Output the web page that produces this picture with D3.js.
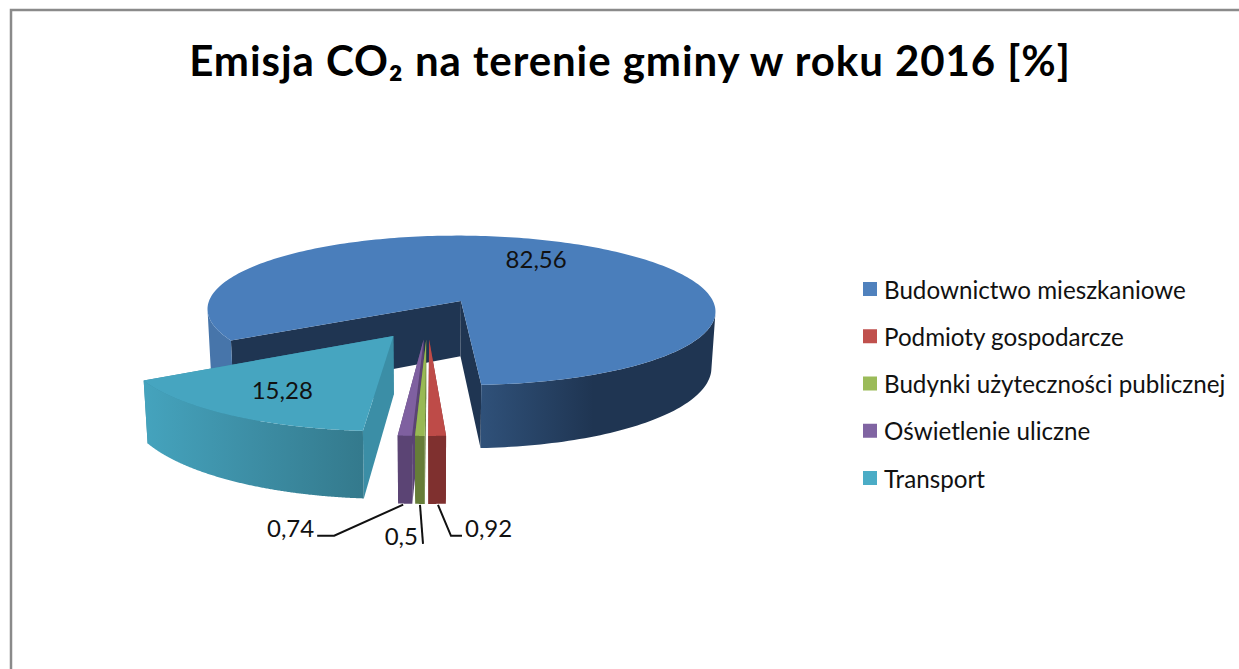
<!DOCTYPE html>
<html>
<head>
<meta charset="utf-8">
<script src="https://cdn.jsdelivr.net/npm/d3@7"></script>
<style>
  html, body { margin: 0; padding: 0; background: #fff; overflow: hidden; }
  text { font-family: Lato, "Open Sans", sans-serif; fill: #111; }
</style>
</head>
<body>
<div id="chart"></div>
<script>
const categories = ["Budownictwo mieszkaniowe", "Podmioty gospodarcze", "Budynki użyteczności publicznej", "Oświetlenie uliczne", "Transport"];
const values = [82.56, 0.92, 0.5, 0.74, 15.28];
const valueLabels = ["82,56", "0,92", "0,5", "0,74", "15,28"];
const explosions = [0.28, 0.245, 0.245, 0.245, 0.24];
const topColors = ["#4A7EBB", "#BE4B48", "#98B954", "#7F60A0", "#46A5C0"];
const legendColors = ["#4F81BD", "#C0504D", "#9BBB59", "#8064A2", "#4BACC6"];
const wallColors = ["#1F3552", "#7F302F", "#667D38", "#5B4474", "#3B8EA6"];

const width = 1239, height = 669;

// 3D look: world unit = pie radius, Y grows towards the viewer
const cx = 427.5, cy = 319.6, ra = 260, rb = 78.3;
const persp = 0.13, depth = 57, shrink = 0.014;
const firstAngle = 239.7 * Math.PI / 180;
const TAU = 2 * Math.PI;

const svg = d3.select("#chart").append("svg")
    .attr("width", width)
    .attr("height", height);

svg.append("rect")
    .attr("x", 11).attr("y", 10)
    .attr("width", width + 20).attr("height", height + 20)
    .attr("fill", "#fff")
    .attr("stroke", "#8a8a8a")
    .attr("stroke-width", 2.5);

svg.append("text")
    .attr("x", 630)
    .attr("y", 76)
    .attr("text-anchor", "middle")
    .style("font-size", "42px")
    .style("font-weight", "bold")
    .style("letter-spacing", "0.93px")
    .style("fill", "#000")
    .text("Emisja CO₂ na terenie gminy w roku 2016 [%]");

function project(X, Y, z) {
    let s = 1 / (1 - persp * Y);
    let f = 1 - shrink * z;
    return [cx + ra * X * s * f, cy + rb * Y * s + depth * s * z];
}

let slices = d3.pie().sort(null).startAngle(firstAngle).endAngle(firstAngle + TAU)(values);

slices.forEach((d, i) => {
    d.mid = (d.startAngle + d.endAngle) / 2;
    d.ox = explosions[i] * Math.sin(d.mid);
    d.oy = -explosions[i] * Math.cos(d.mid);
    // point of the slice at angle a and radius r, z=0 top, z=1 bottom
    d.at = (a, r, z) => project(d.ox + r * Math.sin(a), d.oy - r * Math.cos(a), z);
    d.angles = d3.range(0, 1.0001, 1 / 240).map(t => d.startAngle + t * (d.endAngle - d.startAngle));

    // the part of the rim that faces the viewer runs from the rightmost to the leftmost point
    let circle = d3.range(0, TAU, TAU / 720);
    d.rightA = d3.greatest(circle, a => d.at(a, 1, 0)[0]);
    d.leftA = d3.least(circle, a => d.at(a, 1, 0)[0]);
});

function wallRuns(d) {
    let runs = [], cur = null;
    d.angles.forEach(a => {
        let m = ((a % TAU) + TAU) % TAU;
        if (m >= d.rightA && m <= d.leftA) {
            if (!cur) { cur = []; runs.push(cur); }
            cur.push(a);
        } else {
            cur = null;
        }
    });
    return runs;
}

const defs = svg.append("defs");
function wallGradient(id, x1, x2, stops) {
    let g = defs.append("linearGradient")
        .attr("id", id)
        .attr("gradientUnits", "userSpaceOnUse")
        .attr("x1", x1).attr("x2", x2)
        .attr("y1", 0).attr("y2", 0);
    stops.forEach(s => g.append("stop").attr("offset", s[0]).attr("stop-color", s[1]));
}
wallGradient("wall0", 205, 716, [[0, "#4775AA"], [0.05, "#4775AA"], [0.53, "#30527B"], [0.76, "#1F3552"], [1, "#1F3552"]]);
wallGradient("wall4", 141, 361, [[0, "#45A4BE"], [0.5, "#3D8EA5"], [1, "#347A8D"]]);

const line = d3.line();

function drawSlice(d, i) {
    let g = svg.append("g");
    let outerFill = i === 0 ? "url(#wall0)" : i === 4 ? "url(#wall4)" : wallColors[i];

    // radial faces
    [d.endAngle, d.startAngle].forEach(a => {
        g.append("path")
            .attr("d", line([d.at(a, 0, 0), d.at(a, 1, 0), d.at(a, 1, 1), d.at(a, 0, 1)]) + "Z")
            .attr("fill", wallColors[i]);
    });

    // outer wall
    wallRuns(d).forEach(run => {
        let topEdge = run.map(a => d.at(a, 1, 0));
        let bottomEdge = run.map(a => d.at(a, 1, 1)).reverse();
        g.append("path")
            .attr("d", line(topEdge.concat(bottomEdge)) + "Z")
            .attr("fill", outerFill);
    });

    // top
    g.append("path")
        .attr("d", line([d.at(0, 0, 0)].concat(d.angles.map(a => d.at(a, 1, 0)))) + "Z")
        .attr("fill", topColors[i]);
}

// painter's order: blue is behind, then transport and the thin slices
[0, 4, 3, 2, 1].forEach(i => drawSlice(slices[i], i));

// labels on the two big slices
[0, 4].forEach(i => {
    let d = slices[i];
    let p = d.at(d.mid, 0.7, 0);
    svg.append("text")
        .attr("x", p[0]).attr("y", p[1])
        .attr("text-anchor", "middle")
        .attr("dominant-baseline", "central")
        .style("font-size", "24px")
        .text(valueLabels[i]);
});

// leader lines on the thin slices: offsets from the slice's bottom outer edge
const leaders = [
    { i: 1, path: [[1, 1], [14, 32], [25, 32]], label: [28, 24], anchor: "start" },
    { i: 2, path: [[0, 1], [3, 40]], label: [-2, 32], anchor: "end" },
    { i: 3, path: [[-2, 1], [-71, 32], [-88, 32]], label: [-91, 24], anchor: "end" }
];
leaders.forEach(l => {
    let d = slices[l.i];
    let base = d.at(d.mid, 1, 1);
    svg.append("path")
        .attr("d", line(l.path.map(o => [base[0] + o[0], base[1] + o[1]])))
        .attr("fill", "none")
        .attr("stroke", "#111")
        .attr("stroke-width", 2);
    svg.append("text")
        .attr("x", base[0] + l.label[0]).attr("y", base[1] + l.label[1])
        .attr("text-anchor", l.anchor)
        .attr("dominant-baseline", "central")
        .style("font-size", "24px")
        .text(valueLabels[l.i]);
});

// legend
const legendY = d3.scalePoint().domain(categories).range([289, 478]);
let legend = svg.selectAll(".legend")
    .data(categories)
    .enter()
    .append("g")
    .attr("class", "legend")
    .attr("transform", d => `translate(863,${legendY(d)})`);

legend.append("rect")
    .attr("x", 0).attr("y", -7)
    .attr("width", 14).attr("height", 14)
    .attr("fill", (d, i) => legendColors[i]);

legend.append("text")
    .attr("x", 21)
    .attr("y", 0)
    .attr("dominant-baseline", "central")
    .style("font-size", "24.2px")
    .text(d => d);
</script>
</body>
</html>
